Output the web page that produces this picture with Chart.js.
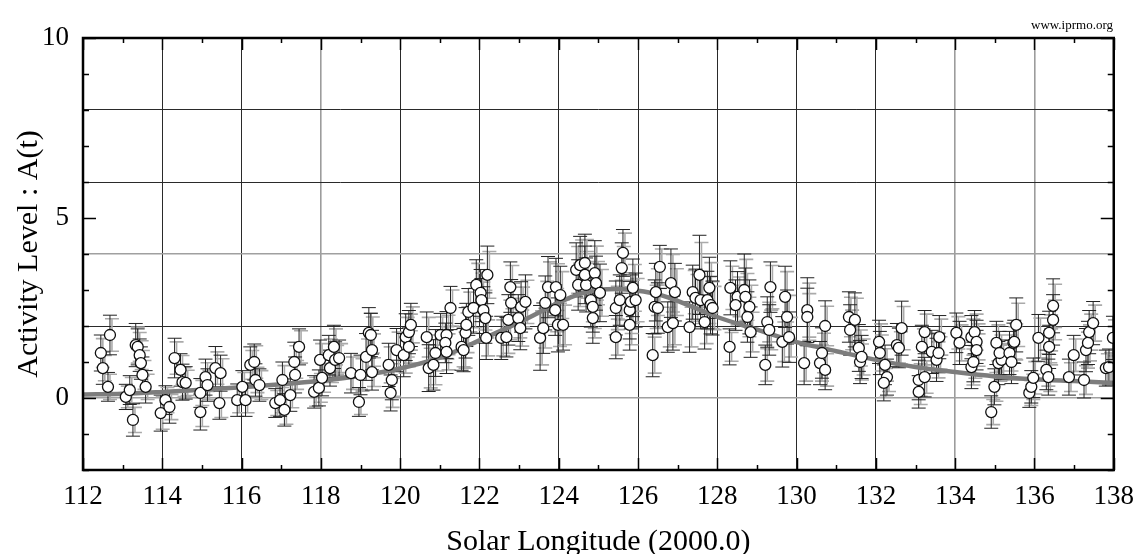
<!DOCTYPE html>
<html>
<head>
<meta charset="utf-8">
<title>Activity Level : A(t)</title>
<script src="https://cdn.jsdelivr.net/npm/chart.js@4.4.1/dist/chart.umd.min.js"></script>
<style>
  html, body { margin: 0; padding: 0; background: #fff; }
  canvas { display: block; }
</style>
</head>
<body>
<canvas id="chart" width="1145" height="554"></canvas>
<script>
// observed activity points : solar longitude, A(t), error (black / gray bars)
var lon = [
  112.45, 112.50, 112.63, 112.68, 113.08, 113.18, 113.26, 113.33, 113.38, 113.43,
  113.46, 113.50, 113.58, 113.96, 114.08, 114.18, 114.31, 114.46, 114.51, 114.59,
  114.96, 114.96, 115.09, 115.14, 115.34, 115.44, 115.47, 115.89, 116.02, 116.10,
  116.22, 116.32, 116.35, 116.45, 116.85, 116.97, 117.08, 117.03, 117.23, 117.33,
  117.35, 117.45, 117.83, 117.95, 117.98, 118.03, 118.20, 118.23, 118.33, 118.36,
  118.46, 118.76, 118.96, 119.00, 119.14, 119.21, 119.26, 119.29, 119.29, 119.71,
  119.76, 119.79, 119.91, 120.09, 120.14, 120.22, 120.27, 120.22, 120.67, 120.72,
  120.84, 120.89, 121.02, 121.17, 121.14, 121.17, 121.27, 121.55, 121.60, 121.65,
  121.67, 121.72, 121.85, 121.92, 122.03, 122.05, 122.10, 122.15, 122.17, 122.20,
  122.55, 122.68, 122.73, 122.78, 122.80, 122.98, 123.03, 123.05, 123.16, 123.53,
  123.61, 123.66, 123.73, 123.93, 123.91, 123.98, 124.04, 124.11, 124.44, 124.54,
  124.66, 124.49, 124.69, 124.66, 124.91, 124.94, 125.04, 124.81, 124.86, 124.86,
  125.62, 125.59, 125.44, 125.54, 125.44, 125.79, 125.82, 125.87, 125.94, 125.79,
  126.37, 126.42, 126.50, 126.45, 126.55, 126.75, 126.83, 126.88, 126.93, 127.30,
  127.38, 127.45, 127.55, 127.58, 127.68, 127.75, 127.80, 127.83, 127.88, 128.31,
  128.33, 128.51, 128.46, 128.68, 128.71, 128.81, 128.76, 128.84, 129.21, 129.26,
  129.31, 129.34, 129.64, 129.71, 129.76, 129.81, 130.19, 130.27, 130.27, 130.59,
  130.64, 130.72, 130.72, 131.32, 131.35, 131.47, 131.57, 131.60, 131.64, 132.08,
  132.10, 132.23, 132.28, 132.20, 132.53, 132.58, 132.65, 133.08, 133.08, 133.16,
  133.23, 133.23, 133.41, 133.53, 133.58, 133.60, 134.03, 134.11, 134.41, 134.46,
  134.41, 134.49, 134.54, 134.54, 134.91, 134.99, 135.04, 135.09, 135.17, 135.12,
  135.37, 135.42, 135.47, 135.49, 135.54, 135.87, 135.92, 135.97, 136.10, 136.30,
  136.35, 136.37, 136.37, 136.47, 136.47, 136.87, 136.99, 137.25, 137.30, 137.35,
  137.38, 137.48, 137.80, 137.88, 137.98
];
var act = [
  1.25, 0.83, 0.31, 1.75, 0.03, 0.22, -0.61, 1.47, 1.42, 1.19,
  0.97, 0.64, 0.31, -0.42, -0.06, -0.25, 1.11, 0.78, 0.44, 0.42,
  -0.39, 0.14, 0.58, 0.36, 0.83, -0.14, 0.69, -0.06, 0.31, -0.06,
  0.92, 1.00, 0.50, 0.36, -0.14, -0.06, -0.33, 0.50, 0.08, 1.00,
  0.64, 1.42, 0.17, 0.28, 1.06, 0.56, 1.19, 0.83, 1.42, 1.06,
  1.11, 0.69, -0.11, 0.64, 1.14, 1.81, 1.75, 1.33, 0.72, 0.92,
  0.14, 0.50, 1.33, 1.19, 1.69, 1.83, 2.03, 1.42, 1.69, 0.83,
  0.92, 1.25, 1.75, 1.75, 1.53, 1.28, 2.50, 1.42, 1.33, 1.81,
  2.03, 2.39, 2.50, 3.14, 2.92, 2.72, 2.44, 2.22, 1.67, 3.42,
  1.67, 1.69, 2.17, 3.08, 2.64, 2.22, 1.94, 2.53, 2.67, 1.67,
  1.94, 2.64, 3.08, 3.08, 2.44, 2.03, 2.86, 2.03, 3.56, 3.69,
  3.75, 3.14, 3.14, 3.42, 3.47, 3.19, 2.92, 2.72, 2.53, 2.22,
  4.03, 3.61, 2.50, 2.72, 1.69, 2.44, 2.67, 3.06, 2.72, 2.03,
  1.19, 2.53, 2.50, 2.94, 3.64, 1.97, 3.19, 2.08, 2.94, 1.97,
  2.94, 2.78, 3.42, 2.72, 2.11, 2.72, 3.06, 2.58, 2.50, 1.42,
  3.06, 2.81, 2.58, 3.00, 2.81, 2.53, 2.25, 1.83, 0.92, 2.11,
  1.89, 3.08, 1.56, 2.81, 2.25, 1.69, 0.97, 2.44, 2.25, 0.97,
  1.25, 0.78, 2.00, 2.25, 1.89, 2.17, 1.39, 1.00, 1.14, 1.56,
  1.25, 0.92, 0.58, 0.42, 1.47, 1.39, 1.94, 0.50, 0.17, 1.42,
  1.83, 0.58, 1.28, 1.06, 1.25, 1.69, 1.81, 1.53, 0.86, 1.00,
  1.69, 1.83, 1.56, 1.33, -0.39, 0.31, 1.53, 0.97, 1.06, 1.25,
  1.25, 1.00, 1.53, 1.56, 2.03, 0.14, 0.31, 0.56, 1.67, 0.78,
  0.58, 1.42, 1.81, 2.17, 2.56, 0.58, 1.19, 0.50, 1.33, 1.53,
  1.83, 2.08, 0.83, 0.86, 1.67
];
var err = [
  0.50, 0.45, 0.40, 0.55, 0.35, 0.40, 0.45, 0.60, 0.50, 0.45,
  0.45, 0.50, 0.45, 0.50, 0.40, 0.45, 0.55, 0.45, 0.50, 0.45,
  0.50, 0.40, 0.50, 0.45, 0.60, 0.45, 0.50, 0.45, 0.45, 0.45,
  0.50, 0.50, 0.45, 0.45, 0.40, 0.45, 0.45, 0.50, 0.45, 0.55,
  0.50, 0.50, 0.45, 0.50, 0.55, 0.50, 0.55, 0.50, 0.60, 0.50,
  0.50, 0.55, 0.40, 0.55, 0.65, 0.70, 0.60, 0.55, 0.50, 0.60,
  0.50, 0.55, 0.60, 0.60, 0.65, 0.60, 0.60, 0.55, 0.70, 0.65,
  0.70, 0.65, 0.60, 0.65, 0.55, 0.60, 0.60, 0.65, 0.60, 0.70,
  0.60, 0.65, 0.70, 0.70, 0.65, 0.60, 0.65, 0.70, 0.60, 0.80,
  0.60, 0.55, 0.70, 0.70, 0.65, 0.65, 0.60, 0.70, 0.75, 0.90,
  0.70, 0.75, 0.85, 0.80, 0.70, 0.75, 0.80, 0.70, 0.75, 0.80,
  0.80, 0.70, 0.75, 0.80, 0.90, 0.75, 0.80, 0.75, 0.70, 0.70,
  0.65, 0.70, 0.75, 0.70, 0.60, 0.80, 0.75, 0.80, 0.75, 0.70,
  0.60, 0.75, 0.70, 0.80, 0.60, 0.70, 0.95, 0.75, 0.80, 0.70,
  0.75, 0.80, 1.10, 0.80, 0.75, 0.80, 0.85, 0.80, 0.75, 0.50,
  0.75, 0.70, 0.70, 1.00, 0.80, 0.75, 0.70, 0.70, 0.55, 0.70,
  0.70, 0.70, 0.70, 0.85, 0.75, 0.70, 0.60, 0.90, 0.80, 0.60,
  0.70, 0.55, 0.70, 0.70, 0.70, 0.75, 0.65, 0.60, 0.60, 0.60,
  0.60, 0.55, 0.50, 0.50, 0.60, 0.55, 0.75, 0.55, 0.45, 0.60,
  0.60, 0.55, 0.60, 0.60, 0.55, 0.60, 0.55, 0.60, 0.60, 0.55,
  0.60, 0.60, 0.60, 0.55, 0.45, 0.50, 0.60, 0.60, 0.55, 0.60,
  0.60, 0.60, 0.55, 0.60, 0.75, 0.40, 0.45, 0.55, 0.65, 0.55,
  0.50, 0.60, 0.60, 0.70, 0.75, 0.50, 0.55, 0.50, 0.60, 0.60,
  0.60, 0.60, 0.50, 0.50, 0.60
];
var errGray = [
  0.40, 0.35, 0.35, 0.45, 0.30, 0.35, 0.35, 0.50, 0.40, 0.40,
  0.35, 0.40, 0.35, 0.45, 0.35, 0.35, 0.45, 0.40, 0.40, 0.35,
  0.40, 0.35, 0.40, 0.40, 0.45, 0.40, 0.40, 0.35, 0.40, 0.35,
  0.40, 0.45, 0.35, 0.40, 0.35, 0.35, 0.40, 0.40, 0.35, 0.45,
  0.40, 0.45, 0.40, 0.40, 0.45, 0.40, 0.45, 0.40, 0.50, 0.40,
  0.40, 0.45, 0.35, 0.45, 0.50, 0.55, 0.50, 0.45, 0.40, 0.50,
  0.40, 0.45, 0.50, 0.50, 0.55, 0.50, 0.50, 0.45, 0.55, 0.55,
  0.55, 0.50, 0.50, 0.55, 0.45, 0.50, 0.50, 0.55, 0.50, 0.55,
  0.50, 0.55, 0.55, 0.60, 0.55, 0.50, 0.55, 0.55, 0.50, 0.65,
  0.50, 0.45, 0.55, 0.60, 0.55, 0.55, 0.50, 0.55, 0.60, 0.75,
  0.55, 0.60, 0.70, 0.65, 0.60, 0.60, 0.65, 0.55, 0.65, 0.70,
  0.65, 0.60, 0.60, 0.65, 0.75, 0.60, 0.65, 0.60, 0.60, 0.55,
  0.55, 0.60, 0.60, 0.55, 0.50, 0.65, 0.60, 0.65, 0.60, 0.55,
  0.50, 0.60, 0.55, 0.65, 0.50, 0.55, 0.80, 0.60, 0.65, 0.55,
  0.60, 0.65, 0.90, 0.65, 0.60, 0.65, 0.70, 0.65, 0.60, 0.40,
  0.60, 0.55, 0.55, 0.85, 0.65, 0.60, 0.55, 0.55, 0.45, 0.55,
  0.55, 0.60, 0.55, 0.70, 0.60, 0.55, 0.50, 0.75, 0.65, 0.50,
  0.55, 0.45, 0.55, 0.55, 0.55, 0.60, 0.50, 0.50, 0.50, 0.50,
  0.50, 0.45, 0.40, 0.40, 0.50, 0.45, 0.60, 0.45, 0.35, 0.50,
  0.50, 0.45, 0.50, 0.50, 0.45, 0.50, 0.45, 0.50, 0.50, 0.45,
  0.50, 0.50, 0.50, 0.45, 0.35, 0.40, 0.50, 0.50, 0.45, 0.50,
  0.50, 0.50, 0.45, 0.50, 0.60, 0.35, 0.35, 0.45, 0.55, 0.45,
  0.40, 0.50, 0.50, 0.55, 0.60, 0.40, 0.45, 0.40, 0.50, 0.50,
  0.50, 0.50, 0.40, 0.40, 0.50
];

// fitted activity profile
var curveLon = [112, 113, 114, 115, 116, 117, 118, 119, 120, 121, 122, 123, 124, 124.5, 125,
                125.5, 126, 126.5, 127, 128, 129, 130, 131, 132, 133, 134, 135, 136, 137, 138];
var curveAct = [0.10, 0.12, 0.17, 0.23, 0.30, 0.38, 0.48, 0.62, 0.82, 1.12, 1.60, 2.10, 2.65, 2.88, 3.00,
                3.03, 2.98, 2.88, 2.70, 2.25, 1.90, 1.55, 1.30, 1.06, 0.86, 0.72, 0.60, 0.52, 0.47, 0.42];

// axis ranges and labelled ticks
var xMin = 112, xMax = 138, xStep = 2;
var yMin = -2, yMax = 10;
var yLabels = [0, 5, 10];

var serif = "'Liberation Serif', 'Times New Roman', serif";

var points = [];
for (var i = 0; i < lon.length; i++) {
    points.push({ x: lon[i], y: act[i] });
}
var curve = [];
for (var j = 0; j < curveLon.length; j++) {
    curve.push({ x: curveLon[j], y: curveAct[j] });
}

// error bars go under the curve and the circles
var errorBars = {
    id: 'errorBars',
    beforeDatasetsDraw: function(chart) {
        var ctx = chart.ctx;
        var xs = chart.scales.x, ys = chart.scales.y;
        var area = chart.chartArea;
        ctx.save();
        ctx.beginPath();
        ctx.rect(area.left, area.top, area.right - area.left, area.bottom - area.top);
        ctx.clip();

        function bars(list, color, width, dx) {
            ctx.strokeStyle = color;
            ctx.lineWidth = width;
            ctx.beginPath();
            for (var k = 0; k < lon.length; k++) {
                var px = xs.getPixelForValue(lon[k]) + dx;
                var top = ys.getPixelForValue(act[k] + list[k]);
                var bot = ys.getPixelForValue(act[k] - list[k]);
                ctx.moveTo(px, top); ctx.lineTo(px, bot);
                ctx.moveTo(px - 7, top); ctx.lineTo(px + 7, top);
                ctx.moveTo(px - 7, bot); ctx.lineTo(px + 7, bot);
            }
            ctx.stroke();
        }
        bars(errGray, '#aaaaaa', 1.6, 2);
        bars(err, '#222222', 1, 0);
        ctx.restore();
    }
};

// frame, tick marks, titles
var frame = {
    id: 'frame',
    afterDraw: function(chart) {
        var ctx = chart.ctx;
        var xs = chart.scales.x, ys = chart.scales.y;
        var a = chart.chartArea;
        ctx.save();
        ctx.strokeStyle = '#000';
        ctx.lineWidth = 1.5;
        ctx.beginPath();
        for (var v = xMin; v <= xMax; v++) {
            var px = Math.round(xs.getPixelForValue(v)) + 0.5;
            var len = (v % 2 === 0) ? 12 : 5;
            ctx.moveTo(px, a.bottom); ctx.lineTo(px, a.bottom - len);
            ctx.moveTo(px, a.top); ctx.lineTo(px, a.top + len);
        }
        for (var w = yMin; w <= yMax; w++) {
            var py = Math.round(ys.getPixelForValue(w)) + 0.5;
            var l2 = (w % 5 === 0) ? 13 : 6;
            ctx.moveTo(a.left, py); ctx.lineTo(a.left + l2, py);
            ctx.moveTo(a.right, py); ctx.lineTo(a.right - l2, py);
        }
        ctx.stroke();

        ctx.lineWidth = 2.5;
        ctx.strokeRect(a.left, a.top, a.right - a.left, a.bottom - a.top);

        ctx.fillStyle = '#000';
        ctx.font = '30px ' + serif;
        ctx.textAlign = 'center';
        ctx.textBaseline = 'alphabetic';
        ctx.fillText('Solar Longitude (2000.0)', (a.left + a.right) / 2, 550);

        ctx.save();
        ctx.translate(37, (a.top + a.bottom) / 2);
        ctx.rotate(-Math.PI / 2);
        ctx.fillText('Activity Level : A(t)', 0, 0);
        ctx.restore();

        ctx.font = '13px ' + serif;
        ctx.textAlign = 'right';
        ctx.fillText('www.iprmo.org', 1113, 29);
        ctx.restore();
    }
};

var ctx = document.getElementById('chart').getContext('2d');

window.chart = new Chart(ctx, {
    type: 'scatter',
    data: {
        datasets: [
            {
                label: 'A(t)',
                data: points,
                order: 1,
                pointRadius: 5.5,
                pointBorderWidth: 1.3,
                pointBorderColor: '#111',
                pointBackgroundColor: '#fff'
            },
            {
                type: 'line',
                label: 'profile',
                data: curve,
                order: 2,
                borderColor: '#7d7d7d',
                borderWidth: 4.5,
                pointRadius: 0,
                fill: false,
                cubicInterpolationMode: 'monotone'
            }
        ]
    },
    options: {
        responsive: false,
        animation: false,
        layout: { padding: { left: 0, right: 27, top: 38, bottom: 0 } },
        plugins: {
            legend: { display: false },
            tooltip: { enabled: false }
        },
        scales: {
            x: {
                type: 'linear',
                min: xMin,
                max: xMax,
                afterFit: function(scale) { scale.height = 84; },
                border: { display: false },
                grid: {
                    drawTicks: false,
                    color: function(c) {
                        var v = c.tick.value;
                        if (v === xMin || v === xMax) return 'rgba(0,0,0,0)';
                        if (v === 118 || v === 134 || v === 136) return '#9c9c9c';
                        return '#2a2a2a';
                    },
                    lineWidth: function(c) {
                        var v = c.tick.value;
                        return (v === 118 || v === 134 || v === 136) ? 1.6 : 1;
                    }
                },
                ticks: {
                    stepSize: xStep,
                    padding: 11,
                    color: '#000',
                    font: { family: serif, size: 27 },
                    maxRotation: 0
                }
            },
            y: {
                type: 'linear',
                min: yMin,
                max: yMax,
                afterFit: function(scale) { scale.width = 83; },
                border: { display: false },
                grid: {
                    drawTicks: false,
                    color: function(c) {
                        var v = c.tick.value;
                        if (v % 2 !== 0 || v === yMin || v === yMax) return 'rgba(0,0,0,0)';
                        if (v === 4 || v === 0) return '#a0a0a0';
                        return '#2a2a2a';
                    },
                    lineWidth: function(c) {
                        var v = c.tick.value;
                        return (v === 4 || v === 0) ? 1.6 : 1;
                    }
                },
                ticks: {
                    stepSize: 1,
                    padding: 14,
                    color: '#000',
                    font: { family: serif, size: 27 },
                    autoSkip: false,
                    callback: function(value) {
                        return yLabels.indexOf(value) >= 0 ? String(value) : '';
                    }
                }
            }
        }
    },
    plugins: [errorBars, frame]
});
</script>
</body>
</html>
